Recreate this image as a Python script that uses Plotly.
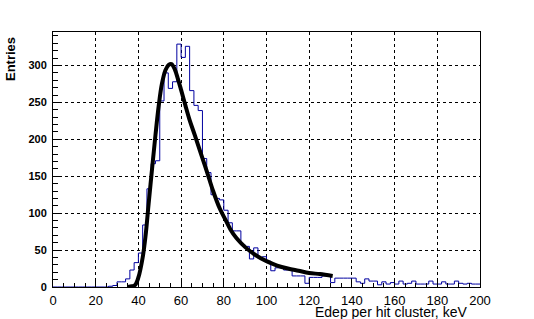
import plotly.graph_objects as go

# Histogram: 2 keV bins from 0 to 200 keV (left edges)
bin_left = list(range(0, 200, 2))
counts = [0] * 13 + [
    1, 2, 7, 7, 11, 23, 33, 46, 84, 133,
    167, 171, 252, 290, 269, 278, 329, 311, 326, 266,
    246, 239, 174, 155, 125, 120, 118, 104, 87, 76,
    76, 57, 55, 38, 53, 39, 41, 35, 22, 26,
    26, 23, 23, 15, 15, 15, 5, 13, 13, 13,
    15, 15, 6, 12, 12, 12, 12, 12, 7, 5,
    11, 8, 8, 3, 7, 4, 6, 4, 8, 4,
    5, 8, 4, 4, 4, 8, 4, 4, 7, 4,
    4, 8, 5, 4, 5, 4, 4, 4,
]

# Fit curve
fit_x = [35, 37, 38.5, 40, 42, 43.3, 44.8, 46.4, 48, 49.5, 51, 52.7, 54.2, 55.5,
         57, 58.5, 60, 62, 64, 66.5, 69, 72, 75, 78, 80.8, 83.1, 86, 90, 95,
         100, 105, 110, 115, 120, 125, 131]
fit_y = [0, 1, 3, 13, 40, 68, 113, 160, 206, 245, 275, 294, 301, 302,
         295, 282, 267, 246, 226, 205, 183, 157, 130, 107, 91, 78, 66, 54, 43,
         35, 29, 25, 22, 19, 17.5, 15]

x_ticks = [0, 20, 40, 60, 80, 100, 120, 140, 160, 180, 200]
y_ticks = [0, 50, 100, 150, 200, 250, 300]

hx = [0] + bin_left + [200]
hy = [0] + counts + [counts[-1]]

fig = go.Figure()
fig.add_trace(go.Scatter(x=hx, y=hy, mode="lines", line=dict(shape="hv", color="#0000a0", width=1),
                         showlegend=False, hoverinfo="skip"))
fig.add_trace(go.Scatter(x=fit_x, y=fit_y, mode="lines", line=dict(shape="spline", color="black", width=4),
                         showlegend=False, hoverinfo="skip"))

font_family = "Liberation Sans, Arial, sans-serif"
fig.update_layout(
    width=534, height=319,
    margin=dict(l=53, r=54, t=32, b=32),
    paper_bgcolor="white", plot_bgcolor="white",
    font=dict(family=font_family, color="black"),
    hovermode=False,
    xaxis=dict(
        range=[0, 200], tickvals=x_ticks, ticktext=[str(v) for v in x_ticks],
        ticks="inside", ticklen=8, tickwidth=1, tickcolor="black",
        minor=dict(dtick=5, ticks="inside", ticklen=4, tickcolor="black", showgrid=False),
        showline=True, linecolor="black", linewidth=1, mirror=True,
        showgrid=True, gridcolor="black", griddash="dot", gridwidth=1,
        zeroline=False, tickfont=dict(size=13, family=font_family),
        ticklabelstandoff=1,
    ),
    yaxis=dict(
        range=[0, 345.4], tickvals=y_ticks, ticktext=[str(v) for v in y_ticks],
        ticks="inside", ticklen=9, tickwidth=1, tickcolor="black",
        minor=dict(dtick=10, ticks="inside", ticklen=5, tickcolor="black", showgrid=False),
        showline=True, linecolor="black", linewidth=1, mirror=True,
        showgrid=True, gridcolor="black", griddash="dot", gridwidth=1,
        zeroline=False, tickfont=dict(size=11, family=font_family, weight="bold"),
        ticklabelstandoff=3,
    ),
    annotations=[
        dict(text="Edep per hit cluster, keV", xref="paper", yref="paper", x=1.0, y=0,
             xanchor="right", yanchor="middle", xshift=-11, yshift=-25, showarrow=False,
             font=dict(size=14, family=font_family)),
        dict(text="<b>Entries</b>", xref="paper", yref="paper", x=0, y=1, textangle=-90,
             xanchor="center", yanchor="top", xshift=-43, yshift=-3, showarrow=False,
             font=dict(size=13, family=font_family)),
    ],
)
fig.write_html(
    "out.html",
    config={"displayModeBar": False, "staticPlot": True},
    post_script="document.body.style.margin='0px';document.body.style.overflow='hidden';window.scrollTo(0,0);",
)
